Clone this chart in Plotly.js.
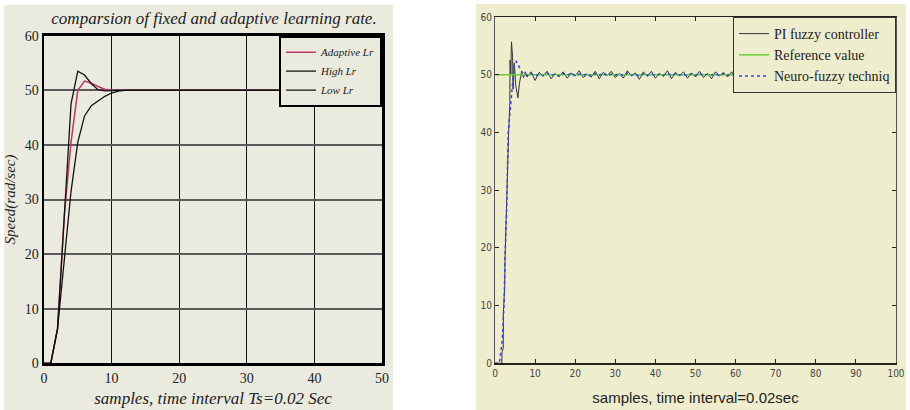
<!DOCTYPE html>
<html>
<head>
<meta charset="utf-8">
<script src="https://cdn.plot.ly/plotly-3.0.1.min.js"></script>
<style>html,body{margin:0;padding:0;background:#fff;}#chart{width:910px;height:410px;}</style>
</head>
<body>
<div id="chart"></div>
<script>
// ---------- Left panel data ----------
const leftTitle = "comparsion of fixed and adaptive learning rate.";
const leftXTitle = "samples, time interval Ts=0.02 Sec";
const leftYTitle = "Speed(rad/sec)";
const leftNames = ["Adaptive Lr", "High Lr", "Low Lr"];
const leftX = [0,1,2,3,4,5,6,7,8,9,10,11,12,13,14,15,16,17,18,19,20,21,22,23,24,25,26,27,28,29,30,31,32,33,34,35,36,37,38,39,40,41,42,43,44,45,46,47,48,49,50];
const adaptiveLr = [0,0,6.3,27,40.5,50,51.7,51.3,50.7,50.2,50.05,50,50,50,50,50,50,50,50,50,50,50,50,50,50,50,50,50,50,50,50,50,50,50,50,50,50,50,50,50,50,50,50,50,50,50,50,50,50,50,50];
const highLr =     [0,0,6.3,26,47.5,53.5,52.8,51.2,50.1,49.9,50,50,50,50,50,50,50,50,50,50,50,50,50,50,50,50,50,50,50,50,50,50,50,50,50,50,50,50,50,50,50,50,50,50,50,50,50,50,50,50,50];
const lowLr =      [0,0,6.3,19,31.5,40.5,45.3,47.2,48.1,48.9,49.5,49.85,50,50,50,50,50,50,50,50,50,50,50,50,50,50,50,50,50,50,50,50,50,50,50,50,50,50,50,50,50,50,50,50,50,50,50,50,50,50,50];
const leftYTicks = [0,10,20,30,40,50,60];
const leftXTicks = [0,10,20,30,40,50];

// ---------- Right panel data ----------
const rightXTitle = "samples, time interval=0.02sec";
const rightNames = ["PI fuzzy controller", "Reference value", "Neuro-fuzzy techniq"];
const piX = [0,1.7,1.75,2.05,2.1,2.4,2.5,2.95,3.05,3.4,3.7,3.75,3.95,4.1,4.4,4.5,4.8,5.2,5.7,6.1,6.6,7.1,7.6,
  8,9,10,11,12,13,14,15,16,17,18,19,20,21,22,23,24,25,26,27,28,29,30,31,32,33,34,35,36,37,38,39,40,41,42,43,44,45,46,47,48,49,50,51,52,53,54,55,56,57,58,59,60,61,62,63,64,65,66,67,68,69,70,71,72,73,74,75,76,77,78,79,80,81,82,83,84,85,86,87,88,89,90,91,92,93,94,95,96,97,98,99,100];
const piY = [0,0,2,2.5,8.7,13.3,18,28.3,34.7,40,45,52.5,50,55.7,53,47.5,52,48,46,48.5,50.4,49.5,50.5,
  49.6,50.5,49.0,50.4,49.8,50.6,49.3,50.2,49.7,50.5,49.4,50.3,49.8,50.7,49.5,50.1,49.6,50.6,49.3,50.4,49.9,50.6,49.5,50.2,49.4,50.7,49.8,50.3,49.2,50.5,49.7,50.6,49.4,50.2,49.7,50.7,49.3,50.4,49.8,50.5,49.4,50.3,49.6,50.6,49.5,50.2,49.3,50.5,49.8,50.4,49.6,50.5,49.5,50.3,49.7,50.6,49.4,50.2,49.8,50.5,49.5,50.3,49.6,50.6,49.4,50.2,49.7,50.5,49.5,50.4,49.8,50.3,49.6,50.5,49.4,50.2,49.7,50.4,49.6,50.3,49.5,50.4,49.7,50.2,49.6,50.3,49.5,50.4,49.8];
const refX = [0,100];
const refY = [50,50];
const nfX = [0,1.1,1.8,2.3,2.5,2.9,3.3,4.0,4.3,4.8,5.3,6.0,6.7,7.5,
  8,9,10,11,12,13,14,15,16,17,18,19,20,21,22,23,24,25,26,27,28,29,30,31,32,33,34,35,36,37,38,39,40,41,42,43,44,45,46,47,48,49,50,51,52,53,54,55,56,57,58,59,60,61,62,63,64,65,66,67,68,69,70,71,72,73,74,75,76,77,78,79,80,81,82,83,84,85,86,87,88,89,90,91,92,93,94,95,96,97,98,99,100];
const nfY = [0,0,4,11,18.5,26.6,40,45.6,49,51.8,52.3,51.4,50.5,50.1,
  49.8,50.2,49.8,50.1,49.8,50.3,49.9,50.1,49.7,50.2,49.9,50.3,49.8,50.1,49.9,50.2,49.7,50.2,49.9,50.3,49.8,50.1,49.9,50.2,49.8,50.3,49.9,50.1,49.7,50.2,49.9,50.2,49.8,50.1,49.9,50.3,49.8,50.2,49.9,50.1,49.8,50.2,49.9,50.3,49.8,50.1,49.9,50.2,49.8,50.2,49.9,50.1,49.8,50.3,49.9,50.1,49.8,50.2,49.9,50.2,49.8,50.1,49.9,50.3,49.8,50.1,49.9,50.2,49.8,50.2,49.9,50.1,49.8,50.2,49.9,50.1,49.8,50.2,49.9,50.1,49.8,50.2,49.9,50.1,49.8,50.2,49.9];
const rightTicksX = [0,10,20,30,40,50,60,70,80,90,100];
const rightTicksY = [0,10,20,30,40,50,60];

// ---------- Geometry (pixels in 910x410) ----------
const W = 910, H = 410;
const px = v => v / W;
const py = v => 1 - v / H;

const serif = "Liberation Serif, Times New Roman, serif";
const sansN = "Liberation Sans Narrow, DejaVu Sans Condensed, Arial Narrow, Liberation Sans, sans-serif";
const sans = "Liberation Sans, Arial, sans-serif";

const traces = [
  {x: leftX, y: adaptiveLr, name: leftNames[0], type: "scatter", mode: "lines",
   line: {color: "#bb3a68", width: 1.5}, xaxis: "x", yaxis: "y", legend: "legend"},
  {x: leftX, y: highLr, name: leftNames[1], type: "scatter", mode: "lines",
   line: {color: "#111111", width: 1.3}, xaxis: "x", yaxis: "y", legend: "legend"},
  {x: leftX, y: lowLr, name: leftNames[2], type: "scatter", mode: "lines",
   line: {color: "#111111", width: 1.3}, xaxis: "x", yaxis: "y", legend: "legend"},
  {x: piX, y: piY, name: rightNames[0], type: "scatter", mode: "lines",
   line: {color: "#333333", width: 1}, xaxis: "x2", yaxis: "y2", legend: "legend2"},
  {x: refX, y: refY, name: rightNames[1], type: "scatter", mode: "lines",
   line: {color: "#66cc33", width: 1.5}, xaxis: "x2", yaxis: "y2", legend: "legend2"},
  {x: nfX, y: nfY, name: rightNames[2], type: "scatter", mode: "lines",
   line: {color: "#3344ee", width: 1.5, dash: "3px,3px"}, xaxis: "x2", yaxis: "y2", legend: "legend2"}
];

const layout = {
  width: W, height: H,
  margin: {l: 0, r: 0, t: 0, b: 0, pad: 0},
  paper_bgcolor: "#ffffff",
  plot_bgcolor: "rgba(0,0,0,0)",
  showlegend: true,
  title: {text: leftTitle, x: px(214), y: py(18), xanchor: "center", yanchor: "middle",
          xref: "paper", yref: "paper",
          font: {family: serif, size: 17, style: "italic", color: "#222222"}},
  shapes: [
    {type: "rect", xref: "paper", yref: "paper", x0: px(4), x1: px(393), y0: 0, y1: py(5),
     fillcolor: "#ebeadf", line: {width: 0}, layer: "below"},
    {type: "rect", xref: "paper", yref: "paper", x0: px(476), x1: px(906), y0: 0, y1: py(4),
     fillcolor: "#eeedcd", line: {width: 0}, layer: "below"}
  ],
  xaxis: {
    domain: [px(44), px(382)], range: [0, 50], tickvals: leftXTicks, anchor: "y",
    showgrid: true, gridcolor: "#111111", gridwidth: 1.3, zeroline: false,
    showline: true, mirror: true, linecolor: "#000000", linewidth: 2.5, ticks: "",
    tickfont: {family: serif, size: 14, color: "#222222"},
    title: {text: leftXTitle, standoff: 8, font: {family: serif, size: 17, style: "italic", color: "#222222"}}
  },
  yaxis: {
    domain: [py(363.3), py(35.7)], range: [0, 60], tickvals: leftYTicks, anchor: "x",
    showgrid: true, gridcolor: "#5a5a5a", gridwidth: 2, zeroline: false,
    showline: true, mirror: true, linecolor: "#000000", linewidth: 2.5, ticks: "",
    tickfont: {family: serif, size: 14, color: "#222222"},
    title: {text: leftYTitle, standoff: 6, font: {family: serif, size: 15, style: "italic", color: "#222222"}}
  },
  xaxis2: {
    domain: [px(495), px(896)], range: [0, 100], tickvals: rightTicksX, anchor: "y2",
    showgrid: false, zeroline: false, showline: true, mirror: "ticks", linecolor: "#222222", linewidth: 1.2,
    ticks: "inside", ticklen: 4, tickcolor: "#222222",
    tickfont: {family: sansN, size: 10, color: "#444444"},
    title: {text: rightXTitle, standoff: 15, font: {family: sans, size: 15, color: "#222222"}}
  },
  yaxis2: {
    domain: [py(363.3), py(17)], range: [0, 60], tickvals: rightTicksY, anchor: "x2",
    showgrid: false, zeroline: false, showline: true, mirror: "ticks", linecolor: "#555555", linewidth: 1,
    ticks: "inside", ticklen: 4, tickcolor: "#222222",
    tickfont: {family: sansN, size: 10, color: "#444444"}
  },
  legend: {
    x: px(382), y: py(35.7), xanchor: "right", yanchor: "top", xref: "paper", yref: "paper",
    bgcolor: "#ebeadf", bordercolor: "#000000", borderwidth: 2,
    font: {family: serif, size: 11, style: "italic", color: "#222222"},
    itemwidth: 30, tracegroupgap: 0
  },
  legend2: {
    x: px(896), y: py(17), xanchor: "right", yanchor: "top", xref: "paper", yref: "paper",
    bgcolor: "#eeedcd", bordercolor: "#333333", borderwidth: 1,
    font: {family: serif, size: 14, color: "#222222"},
    itemwidth: 30, tracegroupgap: 0
  }
};

Plotly.newPlot("chart", traces, layout, {displayModeBar: false, staticPlot: true});
</script>
</body>
</html>
